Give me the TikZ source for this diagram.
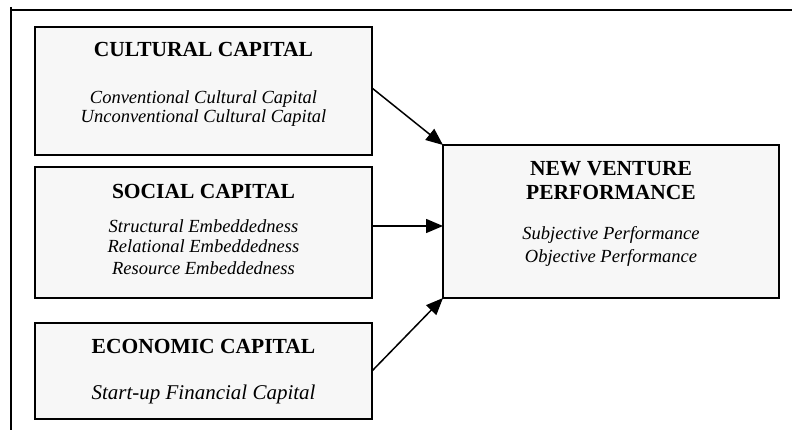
\documentclass[tikz,border=0pt]{standalone}
\usepackage{fontspec}
\setmainfont{Liberation Serif}
\usetikzlibrary{arrows.meta}
\definecolor{boxgray}{HTML}{F7F7F7}

\begin{document}
\begin{tikzpicture}[x=1pt, y=-1pt,
    capital/.style ={rectangle, draw, line width=1.8pt, fill=boxgray, inner sep=0pt, outer sep=0pt, minimum width=337pt},
    heading/.style ={font=\fontsize{21.5}{24}\selectfont\bfseries, align=center, anchor=base, inner sep=0pt},
    item/.style ={font=\fontsize{18.5}{21}\selectfont\itshape, align=center, anchor=base, inner sep=0pt},
    link/.style ={line width=1.5pt, -{Triangle[length=17pt,width=14pt]}}]
   \useasboundingbox (0,0) rectangle (792,430);

   % frame
   \draw[line width=1.5pt] (11,7) -- (11,430);
   \draw[line width=1.5pt] (11,10) -- (792,10);

   % base of a multi-line node is its last line
   \node[capital, minimum height=128pt] (cultural) at (203.5,91) {};
   \node[heading] (culturalhead) at (203.5,57) {CULTURAL CAPITAL};
   \node[item, font=\fontsize{18.5}{19.5}\selectfont\itshape] (culturalitems) at (203.5,123) {Conventional Cultural Capital\\Unconventional Cultural Capital};

   \node[capital, minimum height=131pt] (social) at (203.5,232.5) {};
   \node[heading] (socialhead) at (203.5,199) {SOCIAL CAPITAL};
   \node[item] (socialitems) at (203.5,274) {Structural Embeddedness\\Relational Embeddedness\\Resource Embeddedness};

   \node[capital, minimum height=96pt] (economic) at (203.5,371) {};
   \node[heading] (economichead) at (203.5,353) {ECONOMIC CAPITAL};
   \node[item, font=\fontsize{21}{24}\selectfont\itshape] (economicitems) at (203.5,399) {Start-up Financial Capital};

   \node[capital, minimum width=336pt, minimum height=153pt] (venture) at (611,221.5) {};
   \node[heading] (venturehead) at (611,200) {NEW VENTURE\\PERFORMANCE};
   \node[item, font=\fontsize{18.5}{22}\selectfont\itshape] (ventureitems) at (611,262) {Subjective Performance\\Objective Performance};

   \draw[link] ([yshift=3pt]cultural.east) to (venture.north west);
   \draw[link] ([yshift=6.5pt]social.east) to ([yshift=-4.5pt]venture.west);
   \draw[link] (economic.east) to (venture.south west);
\end{tikzpicture}
\end{document}
